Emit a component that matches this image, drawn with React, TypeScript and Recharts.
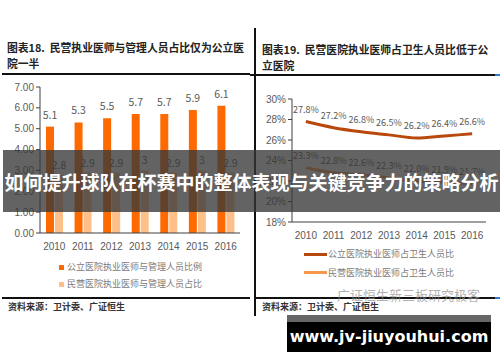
import React from "react";
import {
  BarChart, Bar, LineChart, Line, XAxis, YAxis, LabelList,
} from "recharts";

const years = ["2010", "2011", "2012", "2013", "2014", "2015", "2016"];
const publicStaffRatio = [5.1, 5.3, 5.5, 5.7, 5.7, 5.9, 6.1];
const privateStaffRatio = [2.8, 2.9, 2.9, 3.0, 2.9, 3.0, 2.9];
const publicDoctorShare = [27.8, 27.2, 26.8, 26.5, 26.2, 26.4, 26.6];
const privateDoctorShare = [23.3, 22.8, 22.6, 22.3, 22.0, 21.9, 21.7];
const leftTicks = [0, 1, 2, 3, 4, 5, 6, 7];
const rightTicks = [18, 20, 22, 24, 26, 28, 30];

const barData = years.map((y, i) => ({
  year: y, pub: publicStaffRatio[i], priv: privateStaffRatio[i],
}));
const lineData = years.map((y, i) => ({
  year: y, pub: publicDoctorShare[i], priv: privateDoctorShare[i],
}));

const DARK = "#ff6a00";
const LIGHT = "#ffbf88";
const BROWN = "#b8480c";
const PEACH = "#f5974d";
const GREY = "#595959";
const CJK = "'Noto Sans CJK SC', 'Noto Sans', sans-serif";

const abs = (s: React.CSSProperties): React.CSSProperties => ({ position: "absolute", whiteSpace: "nowrap", ...s });
const tick = { fontSize: 10, fill: GREY, fontFamily: "'Liberation Sans', sans-serif" };
const legendText = { fontSize: 9, lineHeight: "12px", color: "#7a7a7a" };
const sourceText = { fontSize: 9, lineHeight: "12px", fontWeight: 700, color: "#333" };
const titleText = { fontSize: 10.8, fontWeight: 700, color: "#222", lineHeight: "16px" };

export default function App() {
  return (
    <div style={{ position: "fixed", left: 0, top: 0, width: 500, height: 362, background: "#fff", overflow: "hidden", fontFamily: CJK }}>
      {/* left panel */}
      <div style={abs({ left: 7, top: 39, ...titleText })}>
        图表18.&nbsp; 民营执业医师与管理人员占比仅为公立医<br />院一半
      </div>
      <div style={abs({ left: 2, top: 73, width: 248, height: 2, background: "#111" })} />

      <div style={abs({ left: 0, top: 75 })}>
        <BarChart width={248} height={182} data={barData} margin={{ top: 12, right: 8, left: 0, bottom: 0 }}
          barSize={8} barGap={1} barCategoryGap="20%">
          <XAxis dataKey="year" tick={tick} tickLine={false} axisLine={{ stroke: "#404040" }} height={24} tickMargin={4} />
          <YAxis domain={[0, 7]} ticks={leftTicks} tickFormatter={(v: number) => v.toFixed(2)}
            tick={tick} width={40} tickSize={4} axisLine={{ stroke: "#404040" }} tickLine={{ stroke: "#404040" }} />
          <Bar dataKey="pub" fill={DARK} isAnimationActive={false}>
            <LabelList dataKey="pub" position="top" offset={8} style={{ fontSize: 10.5, fill: GREY }} />
          </Bar>
          <Bar dataKey="priv" fill={LIGHT} isAnimationActive={false}>
            <LabelList dataKey="priv" position="top" offset={6} style={{ fontSize: 10.5, fill: GREY }} />
          </Bar>
        </BarChart>
      </div>

      <div style={abs({ left: 59, top: 265, width: 5, height: 5, background: DARK })} />
      <div style={abs({ left: 67, top: 261, ...legendText })}>公立医院执业医师与管理人员比例</div>
      <div style={abs({ left: 59, top: 282, width: 5, height: 5, background: LIGHT })} />
      <div style={abs({ left: 67, top: 278, ...legendText })}>民营医院执业医师与管理人员占比</div>

      <div style={abs({ left: 2, top: 297, width: 248, height: 2, background: "#111" })} />
      <div style={abs({ left: 8, top: 301, ...sourceText })}>资料来源：卫计委、广证恒生</div>

      {/* divider */}
      <div style={abs({ left: 254, top: 28, width: 2, height: 288, background: "#111" })} />

      {/* right panel */}
      <div style={abs({ left: 262, top: 41, ...titleText })}>
        图表19.&nbsp; 民营医院执业医师占卫生人员比低于公<br />立医院
      </div>
      <div style={abs({ left: 250, top: 74, width: 250, height: 2, background: "#111" })} />
      <div style={abs({ left: 495, top: 74, width: 5, height: 2, background: "#2b7bd0" })} />

      <div style={abs({ left: 250, top: 87 })}>
        <LineChart width={242} height={159} data={lineData} margin={{ top: 12, right: 6, left: 0, bottom: 0 }}>
          <XAxis dataKey="year" scale="band" tick={tick} tickLine={false} axisLine={{ stroke: "#404040" }} height={24} tickMargin={4} />
          <YAxis domain={[18, 30]} ticks={rightTicks} tickFormatter={(v: number) => `${v}%`}
            tick={tick} width={42} tickSize={4} axisLine={{ stroke: "#404040" }} tickLine={{ stroke: "#404040" }} />
          <Line type="monotone" dataKey="pub" stroke={BROWN} strokeWidth={3} dot={false} isAnimationActive={false}>
            <LabelList dataKey="pub" position="top" offset={9} formatter={(v: number) => `${v.toFixed(1)}%`} style={{ fontSize: 9, fill: GREY }} />
          </Line>
          <Line type="monotone" dataKey="priv" stroke={PEACH} strokeWidth={3} dot={false} isAnimationActive={false}>
            <LabelList dataKey="priv" position="top" offset={9} formatter={(v: number) => `${v.toFixed(1)}%`} style={{ fontSize: 9, fill: GREY }} />
          </Line>
        </LineChart>
      </div>

      <div style={abs({ left: 304, top: 253, width: 23, height: 3, background: BROWN })} />
      <div style={abs({ left: 328, top: 248, ...legendText })}>公立医院执业医师占卫生人员比</div>
      <div style={abs({ left: 304, top: 271, width: 23, height: 3, background: PEACH })} />
      <div style={abs({ left: 328, top: 267, ...legendText })}>民营医院执业医师占卫生人员比</div>

      <div style={abs({ left: 254, top: 297, width: 246, height: 2, background: "#111" })} />
      <div style={abs({ left: 495, top: 297, width: 5, height: 2, background: "#2b7bd0" })} />
      <div style={abs({ left: 262, top: 301, ...sourceText })}>资料来源：卫计委、广证恒生</div>
      <div style={abs({ left: 337, top: 287, fontSize: 13, lineHeight: "16px", color: "rgba(150,150,150,0.75)" })}>广证恒生新三板研究极客</div>

      {/* overlays */}
      <div style={abs({ left: 3, top: 150, width: 497, height: 62, background: "rgba(55,55,55,0.78)" })} />
      <div style={abs({ left: 3, top: 169, width: 497, textAlign: "center", fontSize: 19, lineHeight: "26px", fontWeight: 700, color: "#fff" })}>
        如何提升球队在杯赛中的整体表现与关键竞争力的策略分析
      </div>
      <div style={abs({ left: 287, top: 315, width: 204, height: 7, background: "#666" })} />
      <div style={abs({ left: 287, top: 322, width: 204, height: 30, background: "#000" })} />
      <div style={abs({ left: 287, top: 324, width: 204, textAlign: "center", fontSize: 16, lineHeight: "26px", fontWeight: 700, color: "#fff", fontFamily: "'DejaVu Sans', sans-serif" })}>
        www.jv-jiuyouhui.com
      </div>
    </div>
  );
}
